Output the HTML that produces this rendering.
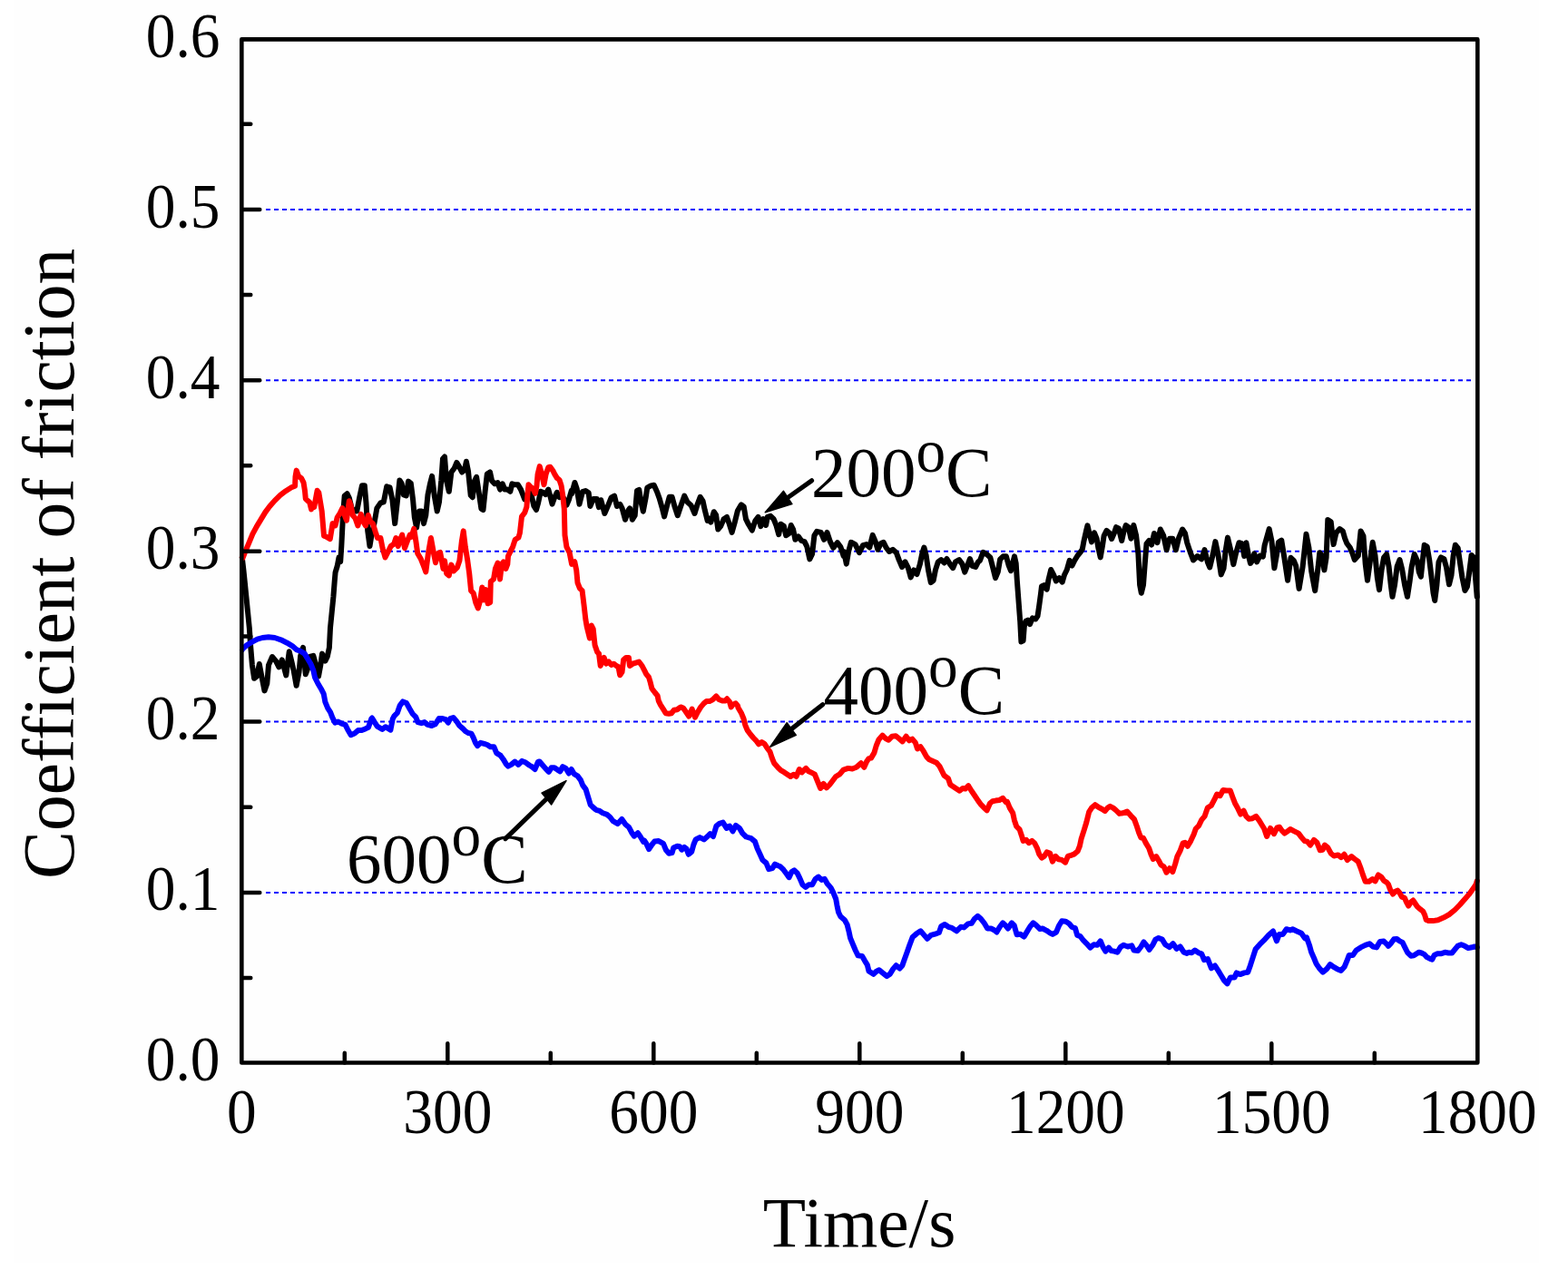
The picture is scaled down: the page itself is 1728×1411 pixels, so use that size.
<!DOCTYPE html><html><head><meta charset="utf-8"><style>html,body{margin:0;padding:0;background:#ffffff;}svg{display:block;}text{font-family:"Liberation Serif","Times New Roman",serif;font-variant-ligatures:none;fill:#000;}</style></head><body>
<svg width="1728" height="1411" viewBox="0 0 1728 1411">
<rect x="15" y="0" width="1681" height="1392" fill="#fefefe"/>
<line x1="293" y1="984.00" x2="1621.5" y2="984.00" stroke="#0000ff" stroke-width="1.9" stroke-dasharray="5 4"/>
<line x1="293" y1="795.50" x2="1621.5" y2="795.50" stroke="#0000ff" stroke-width="1.9" stroke-dasharray="5 4"/>
<line x1="293" y1="607.80" x2="1621.5" y2="607.80" stroke="#0000ff" stroke-width="1.9" stroke-dasharray="5 4"/>
<line x1="293" y1="419.30" x2="1621.5" y2="419.30" stroke="#0000ff" stroke-width="1.9" stroke-dasharray="5 4"/>
<line x1="293" y1="231.00" x2="1621.5" y2="231.00" stroke="#0000ff" stroke-width="1.9" stroke-dasharray="5 4"/>
<path d="M266.8,614.5 L268.4,628.3 L269.7,641.0 L271.4,658.0 L273.1,675.0 L274.8,692.0 L276.2,712.7 L277.9,733.1 L280.1,747.8 L283.0,745.6 L285.8,732.0 L288.6,746.7 L291.5,761.4 L294.3,753.5 L296.0,733.1 L300.0,724.0 L304.0,728.6 L307.4,735.4 L310.8,727.4 L315.3,744.4 L318.7,718.3 L321.5,729.7 L323.8,739.9 L326.6,755.8 L329.5,741.0 L331.2,722.9 L334.0,713.8 L336.8,743.3 L339.7,735.4 L341.4,724.0 L345.3,722.9 L348.2,733.1 L351.0,745.6 L353.3,733.1 L355.0,720.6 L358.4,728.6 L360.7,724.0 L362.9,713.8 L364.0,692.0 L365.7,675.0 L367.4,658.0 L368.7,641.0 L369.6,630.8 L371.7,624.0 L373.5,614.5 L375.2,619.1 L376.3,602.1 L378.0,568.0 L379.7,546.5 L382.5,544.2 L384.8,548.8 L387.6,560.1 L390.5,563.5 L393.3,563.5 L396.1,548.8 L399.0,535.2 L401.8,535.2 L403.5,554.4 L405.2,585.0 L407.5,602.1 L409.7,588.4 L412.6,576.0 L415.4,560.1 L419.4,554.4 L422.8,553.3 L426.2,536.3 L429.6,537.4 L432.4,551.0 L435.2,577.1 L438.1,551.0 L440.4,529.5 L442.6,532.9 L444.9,545.4 L447.7,546.5 L450.0,530.6 L452.8,532.9 L455.1,551.0 L456.8,570.3 L459.1,581.6 L461.9,563.5 L464.7,563.5 L467.0,577.1 L469.3,568.0 L471.5,545.4 L473.8,534.0 L476.1,524.9 L478.9,547.6 L481.7,563.5 L484.0,553.3 L486.3,529.5 L488.0,505.7 L490.0,503.5 L492.1,530.1 L494.8,541.8 L497.4,520.5 L500.6,516.3 L503.3,509.9 L505.9,514.1 L509.1,520.5 L511.8,518.4 L513.9,508.8 L516.0,519.4 L518.7,546.0 L520.8,548.2 L523.0,530.1 L525.1,525.8 L527.7,542.8 L530.4,560.9 L532.5,562.0 L534.6,541.8 L536.8,522.6 L540.0,520.5 L542.1,530.1 L545.3,533.3 L548.5,532.2 L551.1,539.6 L553.8,533.3 L556.4,539.6 L559.1,539.6 L562.3,541.8 L564.4,533.3 L567.6,534.3 L570.8,534.3 L574.0,539.6 L576.1,545.0 L578.2,550.3 L580.9,546.0 L583.5,541.8 L585.7,546.0 L588.3,557.7 L591.0,562.0 L593.1,554.5 L595.8,541.8 L598.4,542.8 L601.1,545.0 L604.3,539.6 L606.4,547.1 L608.5,555.6 L611.2,548.2 L613.8,542.8 L616.5,548.2 L619.2,546.0 L621.8,550.3 L624.5,556.7 L627.1,550.3 L629.8,540.7 L630.0,544.4 L633.4,532.0 L635.7,538.8 L638.5,555.8 L641.9,542.2 L645.3,541.0 L648.7,543.3 L650.4,558.0 L653.8,550.1 L657.8,550.1 L660.0,559.2 L662.3,551.2 L666.3,566.0 L670.3,556.9 L673.7,548.4 L677.1,546.7 L679.9,558.0 L683.3,555.8 L685.6,560.3 L689.0,572.8 L692.4,562.6 L694.1,560.3 L696.9,572.8 L699.7,568.2 L702.0,541.0 L704.3,539.9 L706.5,553.5 L708.8,563.7 L711.6,549.0 L713.3,537.6 L717.3,535.4 L720.7,534.8 L724.1,542.2 L726.9,550.1 L729.8,560.3 L732.1,569.4 L734.9,558.0 L737.7,547.8 L740.6,547.8 L743.4,558.0 L746.8,568.2 L750.2,558.0 L754.2,546.7 L757.6,553.5 L761.5,556.9 L765.5,566.0 L768.3,556.9 L771.7,547.8 L774.6,552.4 L776.8,562.6 L779.7,573.9 L780.0,571.0 L783.4,575.6 L786.8,564.2 L789.1,567.6 L791.3,583.5 L794.2,580.1 L797.6,572.2 L801.0,569.9 L803.8,577.8 L806.6,586.9 L809.5,576.7 L812.9,563.1 L816.9,556.3 L819.7,558.6 L822.0,572.2 L824.8,577.8 L828.8,584.6 L832.2,574.4 L835.6,569.9 L838.4,580.1 L841.2,572.2 L844.1,579.0 L845.8,569.9 L849.2,568.8 L852.6,572.2 L855.4,579.0 L858.2,589.2 L860.5,577.8 L863.9,580.1 L866.2,590.3 L869.6,588.0 L871.8,579.0 L874.1,583.5 L876.4,594.8 L879.8,591.4 L883.2,596.0 L886.6,597.1 L889.4,602.8 L892.3,616.4 L895.1,610.7 L897.4,590.3 L900.2,585.8 L904.7,586.9 L908.1,594.8 L911.5,586.9 L914.9,597.1 L918.3,603.9 L922.9,598.2 L926.3,602.8 L929.7,613.0 L930.0,608.0 L932.8,621.6 L935.1,608.0 L937.9,597.8 L942.5,600.1 L947.0,609.2 L951.0,601.2 L954.9,600.1 L958.3,603.5 L961.7,589.9 L964.6,596.7 L967.4,605.8 L970.8,599.0 L973.7,597.8 L976.5,603.5 L979.9,608.0 L983.9,605.8 L987.8,609.2 L990.7,617.1 L994.1,625.0 L997.5,619.4 L1000.9,626.2 L1003.7,636.4 L1007.1,628.4 L1010.5,633.0 L1013.9,621.6 L1016.2,610.3 L1018.4,603.5 L1020.7,612.6 L1023.0,628.4 L1025.8,642.1 L1028.7,639.8 L1030.9,628.4 L1033.8,619.4 L1037.2,617.1 L1040.6,620.5 L1043.4,616.0 L1046.8,621.6 L1050.2,626.2 L1053.0,619.4 L1057.0,617.1 L1060.4,621.6 L1063.2,630.7 L1065.5,625.0 L1068.9,616.0 L1071.7,623.9 L1075.1,625.0 L1078.0,619.4 L1080.0,617.8 L1083.4,608.8 L1087.4,611.0 L1091.3,614.4 L1094.2,625.8 L1097.0,637.1 L1099.8,630.3 L1102.1,616.7 L1105.5,613.3 L1108.9,613.3 L1111.7,623.5 L1114.0,629.2 L1116.3,620.1 L1118.0,613.3 L1119.7,621.2 L1120.8,639.4 L1122.5,662.1 L1124.2,684.7 L1125.4,707.4 L1127.6,706.3 L1128.8,690.4 L1130.5,684.7 L1132.7,683.6 L1135.0,688.1 L1137.8,681.3 L1141.2,682.5 L1143.5,679.1 L1145.2,667.7 L1146.9,655.2 L1148.0,646.2 L1150.9,645.0 L1153.7,649.6 L1155.4,639.4 L1158.2,628.0 L1161.1,633.7 L1163.9,640.5 L1167.3,637.1 L1170.7,641.6 L1173.0,633.7 L1175.8,628.0 L1178.7,617.8 L1181.5,623.5 L1184.3,617.8 L1187.7,612.2 L1190.6,608.8 L1192.8,605.4 L1194.5,596.3 L1196.8,586.1 L1198.5,579.3 L1200.8,589.5 L1203.0,597.4 L1205.9,587.2 L1208.7,594.0 L1210.4,604.2 L1212.7,614.4 L1214.9,602.0 L1216.6,590.6 L1219.5,584.9 L1222.3,587.2 L1225.1,594.0 L1228.0,587.2 L1230.0,581.2 L1232.8,582.4 L1236.2,596.0 L1238.5,585.8 L1240.8,579.0 L1243.6,581.2 L1246.4,593.7 L1249.3,579.0 L1252.1,590.3 L1254.4,610.7 L1256.1,644.7 L1257.8,653.8 L1260.0,644.7 L1261.7,622.1 L1263.5,599.4 L1266.3,596.0 L1269.1,600.5 L1272.0,588.0 L1275.4,598.2 L1278.8,583.5 L1282.2,590.3 L1285.6,606.2 L1289.0,593.7 L1292.4,593.7 L1295.8,606.2 L1299.2,592.6 L1303.1,583.5 L1306.0,588.0 L1308.2,598.2 L1311.6,608.4 L1315.0,617.5 L1319.6,613.0 L1324.1,616.4 L1327.5,606.2 L1330.9,619.8 L1333.2,625.5 L1336.0,614.1 L1339.4,597.1 L1342.3,610.7 L1345.7,633.4 L1348.5,626.6 L1350.8,606.2 L1353.0,592.6 L1355.9,605.0 L1359.3,622.1 L1362.1,609.6 L1365.5,598.2 L1368.9,599.4 L1371.2,613.0 L1373.4,598.2 L1376.3,614.1 L1378.0,620.9 L1380.0,618.2 L1382.3,610.3 L1385.1,619.4 L1388.5,612.6 L1391.9,613.7 L1393.6,601.2 L1398.7,583.1 L1401.5,596.7 L1404.4,626.2 L1407.2,610.3 L1408.9,597.8 L1412.3,595.6 L1415.2,613.7 L1419.1,639.8 L1422.5,614.8 L1425.9,618.2 L1428.2,623.9 L1431.6,648.9 L1435.6,625.0 L1439.5,588.8 L1442.4,603.5 L1445.2,629.6 L1449.2,651.1 L1452.6,625.0 L1454.3,609.2 L1457.1,612.6 L1459.4,628.4 L1461.6,614.8 L1463.3,572.9 L1466.7,575.2 L1469.6,600.1 L1472.4,587.6 L1476.4,583.1 L1479.8,585.4 L1482.1,593.3 L1484.3,599.0 L1487.7,603.5 L1490.6,610.3 L1492.8,617.1 L1496.8,612.6 L1499.6,585.4 L1502.5,591.0 L1504.7,621.6 L1507.0,639.8 L1509.8,619.4 L1512.7,597.8 L1515.5,612.6 L1517.8,636.4 L1520.0,650.1 L1522.6,628.0 L1525.1,614.4 L1528.1,611.0 L1530.6,624.6 L1532.8,645.0 L1534.5,657.8 L1537.0,645.0 L1539.6,624.6 L1542.5,617.0 L1545.1,627.2 L1548.1,645.0 L1551.0,657.8 L1553.6,640.8 L1555.7,624.6 L1558.7,611.0 L1561.7,617.8 L1563.8,630.6 L1565.9,635.7 L1567.6,619.5 L1569.7,600.8 L1572.7,602.5 L1575.3,617.8 L1577.4,634.8 L1579.5,653.5 L1581.2,662.0 L1583.4,645.0 L1585.5,619.5 L1588.0,614.4 L1591.4,616.1 L1594.0,625.5 L1597.0,644.2 L1599.5,634.0 L1601.6,612.7 L1603.8,600.8 L1606.7,604.2 L1608.9,619.5 L1611.4,636.5 L1614.4,651.0 L1616.9,646.7 L1619.1,631.4 L1621.6,611.9 L1624.2,614.4 L1627.7,657.8" fill="none" stroke="#000000" stroke-width="6.0" stroke-linejoin="round" stroke-linecap="round"/>
<path d="M266.9,614.3 L267.5,615.2 L270.6,607.4 L274.5,598.1 L278.4,588.7 L283.0,580.1 L287.7,572.4 L292.4,564.6 L297.1,558.3 L302.5,552.1 L308.8,545.9 L315.0,541.2 L321.2,537.3 L325.1,535.7 L325.5,525.6 L326.7,518.6 L329.0,524.8 L332.1,527.1 L334.5,531.8 L336.0,541.2 L336.8,549.8 L339.2,552.1 L341.1,553.6 L343.1,561.4 L343.4,560.1 L346.2,559.0 L349.6,540.8 L351.3,543.1 L354.7,563.5 L357.0,590.7 L359.8,591.8 L363.8,594.1 L366.6,577.1 L369.5,579.4 L371.7,570.3 L374.6,565.8 L377.4,560.1 L379.7,568.0 L382.0,573.7 L384.8,552.2 L386.5,556.7 L388.8,568.0 L391.6,571.4 L394.4,579.4 L397.8,566.9 L400.1,574.8 L402.9,579.4 L405.8,568.0 L408.0,574.8 L410.9,577.1 L413.7,586.2 L416.0,593.0 L419.4,593.0 L421.6,604.3 L424.5,614.5 L427.3,608.9 L430.7,602.1 L434.1,599.8 L436.4,593.0 L438.7,602.1 L440.9,595.2 L443.2,589.6 L446.0,604.3 L448.9,596.4 L451.7,589.6 L453.4,591.8 L456.2,582.8 L458.5,597.5 L460.2,610.0 L463.6,615.7 L466.4,622.5 L469.3,630.4 L472.1,608.9 L474.9,593.0 L477.8,608.9 L480.0,620.2 L482.9,610.0 L485.1,608.9 L488.5,627.0 L490.0,618.3 L492.1,632.1 L494.8,634.3 L497.4,622.6 L500.0,629.5 L503.8,625.7 L506.4,618.1 L508.9,596.4 L510.7,585.4 L512.8,602.8 L515.3,618.1 L517.2,632.1 L519.1,651.2 L521.7,653.8 L524.2,664.0 L526.8,670.4 L529.3,661.4 L531.3,647.4 L533.2,661.4 L535.1,650.0 L537.6,665.3 L540.2,664.0 L540.8,641.0 L544.0,638.5 L545.9,627.0 L548.5,620.6 L551.0,638.5 L552.9,621.9 L554.9,619.3 L557.4,627.0 L559.3,621.9 L560.0,613.0 L562.5,607.9 L565.1,602.8 L567.6,595.1 L571.4,592.6 L572.9,587.5 L575.0,569.4 L578.2,565.2 L580.4,558.8 L581.4,545.0 L582.5,534.3 L584.6,536.5 L587.3,538.6 L589.9,543.9 L591.5,535.4 L592.6,522.6 L594.7,514.1 L596.8,521.6 L599.5,534.3 L601.6,522.6 L604.3,515.2 L606.4,514.7 L609.1,518.4 L611.2,522.6 L613.8,526.9 L616.5,529.0 L618.6,535.4 L620.2,546.0 L621.8,560.9 L622.5,590.0 L624.4,602.8 L627.6,609.1 L630.1,621.9 L633.3,619.3 L635.2,628.3 L636.5,642.3 L639.0,648.7 L641.6,651.2 L643.5,666.5 L645.4,683.1 L646.7,690.8 L649.9,703.5 L651.8,689.5 L653.7,693.3 L655.6,711.2 L658.2,718.8 L660.0,720.4 L661.7,734.0 L663.4,729.5 L665.7,724.9 L667.9,731.7 L670.8,729.5 L673.6,732.9 L676.4,731.7 L679.3,734.0 L681.5,735.2 L683.2,744.2 L685.5,740.8 L687.2,727.2 L690.0,724.9 L692.9,724.9 L694.0,734.0 L697.4,731.7 L700.8,730.6 L704.2,729.5 L707.6,734.0 L710.5,739.7 L712.2,743.1 L715.0,746.5 L716.7,752.2 L718.4,759.0 L721.8,763.5 L724.6,766.9 L725.8,772.6 L728.0,777.1 L730.9,781.6 L733.7,786.2 L737.1,786.7 L739.9,786.2 L742.8,782.8 L746.2,782.2 L750.1,779.4 L753.0,780.5 L755.8,784.5 L759.2,789.6 L762.6,781.6 L766.0,790.7 L768.9,785.0 L772.3,779.4 L775.7,775.4 L778.5,773.1 L781.9,773.1 L785.3,771.4 L789.3,767.5 L792.1,770.9 L796.1,772.6 L798.9,772.6 L801.2,770.3 L804.0,773.7 L805.7,779.4 L808.0,776.5 L810.8,775.4 L813.1,778.2 L813.4,780.0 L816.8,785.7 L819.6,792.5 L821.3,799.3 L823.6,804.9 L827.0,809.5 L830.4,813.5 L833.2,816.3 L836.1,820.3 L839.5,818.0 L842.3,819.7 L845.2,824.2 L848.6,828.8 L850.8,835.6 L853.1,841.2 L857.1,845.8 L860.5,849.2 L864.4,851.4 L867.8,853.7 L871.2,856.0 L874.6,853.7 L877.5,856.0 L880.9,848.0 L883.7,851.4 L888.2,846.9 L891.1,850.3 L895.0,852.0 L897.9,853.7 L900.7,860.5 L904.1,869.0 L907.5,863.9 L910.9,868.4 L914.3,865.0 L917.7,860.5 L921.1,856.0 L925.1,853.7 L929.6,848.6 L934.7,846.9 L939.3,847.5 L943.8,845.8 L948.9,841.2 L952.3,845.8 L955.1,839.5 L957.4,836.1 L960.0,835.6 L963.4,829.9 L965.7,822.0 L968.5,815.2 L972.5,810.6 L975.9,814.0 L979.3,815.7 L983.2,811.7 L987.2,811.2 L990.6,814.0 L994.6,817.4 L998.6,811.7 L1002.0,816.3 L1005.4,814.6 L1008.8,818.6 L1011.0,825.4 L1014.4,823.1 L1017.8,828.2 L1021.2,834.4 L1024.1,837.3 L1028.0,839.0 L1032.0,840.7 L1035.4,844.6 L1038.2,850.3 L1040.5,854.8 L1045.0,858.2 L1047.3,865.0 L1050.7,867.3 L1054.1,869.6 L1057.5,871.8 L1060.9,869.0 L1063.8,869.6 L1067.2,866.2 L1070.6,871.8 L1074.5,877.5 L1077.9,882.6 L1081.3,887.2 L1084.7,890.6 L1087.6,893.4 L1091.0,885.5 L1093.8,883.2 L1097.2,882.6 L1101.2,882.1 L1105.1,879.8 L1108.5,884.3 L1110.0,883.8 L1112.8,890.6 L1116.2,896.3 L1117.9,904.2 L1120.2,911.0 L1123.6,914.4 L1125.9,921.2 L1127.6,926.9 L1131.0,925.8 L1133.8,929.2 L1137.2,926.9 L1140.0,929.2 L1142.9,934.8 L1145.2,941.6 L1148.0,945.6 L1150.8,943.9 L1153.7,939.4 L1157.1,940.5 L1159.9,949.6 L1163.3,943.9 L1166.7,947.3 L1170.1,947.9 L1174.1,950.7 L1176.9,943.9 L1180.3,942.8 L1183.7,941.6 L1187.7,938.2 L1189.9,932.6 L1191.6,924.6 L1194.5,915.6 L1197.3,906.5 L1200.1,895.2 L1203.0,890.6 L1206.9,887.2 L1210.9,890.0 L1214.3,891.7 L1217.7,894.0 L1220.6,890.6 L1223.4,888.9 L1226.8,890.6 L1230.2,893.5 L1233.6,896.9 L1237.6,896.3 L1242.1,894.6 L1246.1,899.1 L1250.0,903.1 L1252.9,911.0 L1255.1,917.8 L1257.4,923.5 L1260.0,923.7 L1262.8,929.4 L1266.2,935.0 L1268.5,941.8 L1270.8,946.9 L1274.2,944.1 L1277.0,948.7 L1279.3,953.2 L1282.7,955.5 L1285.5,961.7 L1288.9,957.2 L1292.3,961.1 L1295.2,952.1 L1297.4,944.1 L1300.8,937.3 L1303.7,929.4 L1305.9,928.8 L1308.8,932.8 L1312.2,927.1 L1315.6,919.7 L1317.8,913.5 L1321.2,910.1 L1324.1,903.9 L1327.5,899.9 L1330.9,890.3 L1334.8,888.0 L1338.2,881.7 L1341.1,875.5 L1344.5,877.2 L1347.9,871.0 L1351.8,871.5 L1355.8,871.5 L1358.7,879.5 L1360.9,885.2 L1364.3,891.4 L1367.2,897.6 L1370.6,893.7 L1373.4,899.9 L1376.2,902.7 L1380.2,902.2 L1384.2,899.9 L1387.6,904.4 L1390.4,909.0 L1393.2,913.5 L1396.1,922.0 L1400.0,912.9 L1404.0,919.2 L1407.4,912.4 L1410.0,911.7 L1412.3,915.2 L1415.7,918.6 L1419.1,916.3 L1421.9,914.0 L1426.4,916.3 L1431.0,918.6 L1434.4,923.1 L1437.8,927.1 L1440.6,927.6 L1444.0,931.6 L1448.0,925.9 L1451.4,928.8 L1454.8,937.3 L1457.6,936.7 L1459.9,931.6 L1463.3,934.4 L1466.7,940.7 L1470.1,943.5 L1474.6,942.4 L1478.0,945.2 L1481.4,941.8 L1484.8,948.0 L1489.4,944.1 L1492.8,946.9 L1496.7,949.7 L1499.6,957.1 L1501.8,963.9 L1504.7,971.8 L1508.7,971.8 L1512.6,969.0 L1515.5,971.3 L1518.9,964.5 L1522.3,966.7 L1525.1,970.7 L1528.5,973.0 L1530.0,974.9 L1532.3,981.2 L1535.1,985.5 L1537.8,982.7 L1540.1,981.6 L1542.5,984.3 L1544.8,988.6 L1547.9,989.8 L1549.9,994.4 L1552.2,998.7 L1554.9,994.4 L1557.3,992.5 L1559.6,996.0 L1562.0,999.5 L1565.1,1002.2 L1568.2,1004.6 L1570.1,1008.5 L1571.7,1013.9 L1574.8,1015.1 L1579.1,1015.1 L1584.6,1014.3 L1590.8,1011.6 L1597.0,1008.1 L1603.3,1003.0 L1608.7,997.5 L1614.2,991.3 L1618.9,985.9 L1623.5,979.6 L1626.6,974.9 L1627.8,971.0" fill="none" stroke="#ff0000" stroke-width="6.0" stroke-linejoin="round" stroke-linecap="round"/>
<path d="M266.9,716.2 L267.1,715.5 L272.2,711.0 L277.9,707.6 L283.5,704.7 L289.2,703.0 L296.0,702.2 L302.8,703.0 L309.6,705.3 L316.4,708.7 L322.1,712.1 L326.6,716.1 L331.2,717.8 L335.7,720.6 L339.1,726.3 L342.5,732.0 L345.3,738.8 L347.0,746.7 L350.4,753.5 L353.8,759.2 L356.7,764.8 L358.4,773.9 L361.2,780.7 L364.1,785.2 L366.3,790.9 L369.2,796.6 L372.6,795.5 L376.5,797.7 L380.5,798.9 L383.3,804.5 L386.7,810.2 L390.7,808.5 L394.7,805.1 L398.6,805.1 L402.6,803.4 L406.0,801.7 L409.4,792.1 L410.0,791.5 L412.8,796.1 L415.7,800.6 L421.3,804.0 L424.7,801.2 L430.4,804.6 L432.7,792.7 L434.4,789.3 L437.8,785.9 L440.6,777.9 L444.0,773.4 L448.0,775.1 L451.4,781.3 L454.8,787.0 L458.2,790.4 L460.5,796.1 L464.4,797.2 L467.8,796.1 L471.2,798.9 L475.8,800.0 L479.7,798.3 L483.7,792.1 L487.7,792.1 L491.1,793.2 L493.9,796.6 L496.2,792.1 L499.6,791.0 L503.0,794.9 L506.4,800.0 L509.8,802.9 L513.2,806.3 L516.0,808.0 L519.4,808.6 L521.7,813.1 L524.0,818.8 L526.2,822.2 L529.6,818.8 L533.6,819.9 L537.0,821.0 L540.4,823.3 L544.4,823.3 L547.2,830.1 L551.7,832.9 L554.6,836.9 L558.0,842.6 L560.0,844.6 L563.4,842.9 L567.4,839.5 L571.3,842.9 L575.3,838.9 L579.3,840.6 L583.2,843.5 L586.1,845.2 L589.5,848.0 L592.9,840.0 L594.6,839.5 L598.0,843.5 L601.4,847.4 L604.8,850.8 L607.6,846.3 L611.0,846.3 L614.4,848.6 L617.3,850.3 L620.1,845.2 L623.5,846.9 L626.9,852.5 L629.7,848.0 L632.6,853.1 L636.5,855.4 L639.9,859.9 L642.2,865.6 L645.6,870.1 L647.3,875.8 L649.0,881.4 L650.7,887.1 L653.5,889.9 L656.9,892.8 L660.9,893.9 L664.3,896.2 L668.9,897.9 L672.3,900.7 L675.7,905.2 L680.8,908.1 L685.3,903.0 L689.3,908.7 L693.2,912.1 L696.1,917.7 L698.9,921.7 L702.9,918.3 L705.7,922.3 L709.1,927.9 L710.0,926.5 L712.3,929.9 L715.1,936.1 L718.5,931.0 L721.3,927.6 L725.9,927.1 L731.0,929.9 L733.8,936.7 L737.2,940.7 L740.6,940.1 L742.3,934.4 L746.3,932.7 L749.1,933.3 L751.4,936.7 L754.2,933.9 L756.5,935.6 L758.8,941.8 L762.2,939.0 L764.4,931.0 L766.7,925.4 L771.2,923.1 L775.8,925.4 L779.7,922.0 L782.6,919.1 L786.0,922.0 L789.4,910.6 L792.8,907.8 L796.7,906.6 L800.7,912.9 L804.1,910.6 L807.5,916.3 L810.9,910.0 L814.9,912.9 L818.3,918.6 L822.3,922.5 L827.9,924.2 L831.9,927.6 L834.7,935.6 L837.6,941.8 L840.4,948.0 L844.4,951.4 L847.2,958.2 L851.2,957.1 L854.0,952.6 L857.4,954.3 L860.0,955.3 L863.4,958.7 L866.8,963.2 L869.6,967.2 L872.5,961.0 L875.3,959.3 L878.7,962.7 L881.5,968.3 L884.4,975.2 L887.8,978.0 L891.2,975.2 L895.2,975.2 L898.6,968.9 L902.0,966.6 L905.4,970.0 L908.8,968.9 L911.6,974.0 L915.6,978.6 L918.4,984.2 L921.2,991.0 L922.4,997.8 L924.1,1005.8 L926.3,1010.3 L930.9,1014.3 L933.7,1019.4 L935.4,1026.2 L937.1,1034.1 L939.9,1040.9 L942.8,1047.7 L945.6,1053.4 L950.1,1054.0 L953.0,1059.1 L955.8,1063.6 L957.5,1070.4 L962.6,1073.8 L965.5,1071.0 L968.9,1069.3 L972.3,1072.1 L977.4,1076.1 L980.8,1073.8 L984.2,1068.1 L987.6,1064.2 L991.5,1067.6 L994.4,1064.2 L996.6,1057.9 L999.5,1050.0 L1002.3,1042.1 L1005.7,1033.0 L1009.7,1029.6 L1010.0,1029.2 L1014.5,1026.3 L1018.5,1030.9 L1021.9,1034.8 L1025.9,1030.9 L1030.4,1029.7 L1034.9,1028.0 L1037.2,1021.2 L1041.2,1019.0 L1045.2,1021.8 L1049.1,1022.9 L1054.2,1026.3 L1058.8,1021.8 L1062.2,1022.4 L1066.7,1018.4 L1070.7,1017.8 L1074.1,1012.7 L1077.5,1009.9 L1080.9,1012.7 L1084.8,1017.8 L1088.2,1023.5 L1092.2,1023.5 L1095.6,1025.2 L1098.4,1027.5 L1101.8,1021.8 L1105.2,1017.3 L1108.1,1020.1 L1110.9,1023.5 L1114.9,1017.3 L1117.7,1020.1 L1120.6,1030.3 L1124.5,1029.7 L1128.5,1032.6 L1131.9,1026.9 L1135.3,1021.2 L1138.7,1017.3 L1142.1,1020.1 L1146.1,1024.1 L1148.9,1023.5 L1153.4,1025.8 L1157.4,1028.6 L1160.0,1029.9 L1164.0,1027.6 L1166.8,1020.8 L1170.2,1015.2 L1174.2,1015.7 L1178.1,1018.0 L1181.5,1022.0 L1184.9,1023.1 L1187.2,1031.0 L1190.6,1032.2 L1194.0,1036.7 L1197.4,1040.1 L1201.4,1044.6 L1205.4,1041.2 L1209.3,1041.8 L1212.7,1037.3 L1215.6,1044.1 L1218.4,1048.6 L1221.8,1044.6 L1224.6,1048.0 L1228.0,1048.6 L1231.4,1049.7 L1234.8,1044.1 L1238.2,1041.8 L1242.8,1043.5 L1247.3,1042.4 L1249.6,1047.5 L1254.1,1048.0 L1257.5,1043.5 L1260.4,1038.4 L1263.8,1042.4 L1266.6,1046.9 L1270.6,1041.2 L1273.4,1035.6 L1276.8,1033.9 L1280.8,1035.6 L1284.2,1041.2 L1288.7,1044.1 L1292.7,1040.1 L1296.6,1045.8 L1300.6,1043.5 L1304.6,1049.7 L1308.0,1050.9 L1310.0,1049.7 L1313.4,1050.3 L1316.8,1047.5 L1320.8,1050.3 L1324.2,1051.4 L1327.0,1058.2 L1331.0,1057.1 L1334.9,1067.3 L1338.9,1064.5 L1342.3,1069.6 L1345.7,1075.2 L1349.1,1080.9 L1352.5,1084.3 L1355.9,1077.5 L1360.5,1077.5 L1362.7,1072.4 L1366.7,1074.1 L1371.2,1072.4 L1375.2,1071.8 L1378.0,1063.9 L1380.9,1054.8 L1383.7,1046.3 L1388.2,1041.2 L1392.8,1036.7 L1397.9,1031.0 L1403.0,1026.5 L1406.9,1037.3 L1409.8,1029.9 L1413.8,1029.9 L1417.7,1024.2 L1421.7,1025.4 L1424.5,1024.2 L1429.1,1026.5 L1434.2,1028.8 L1438.1,1034.4 L1440.0,1033.4 L1443.0,1041.9 L1445.1,1049.5 L1448.1,1056.3 L1450.6,1062.3 L1454.0,1067.4 L1457.9,1071.6 L1462.1,1068.2 L1465.9,1063.1 L1469.3,1065.7 L1473.6,1068.2 L1477.8,1069.9 L1481.7,1065.7 L1484.2,1059.7 L1486.8,1052.9 L1491.0,1052.9 L1494.4,1047.8 L1499.5,1044.4 L1504.6,1041.9 L1509.3,1040.2 L1513.1,1043.6 L1517.0,1044.4 L1520.8,1038.0 L1525.0,1037.6 L1529.3,1041.9 L1530.0,1042.8 L1533.1,1039.6 L1536.2,1035.3 L1539.4,1035.0 L1542.5,1037.3 L1545.6,1038.9 L1548.3,1044.3 L1551.0,1049.8 L1554.9,1053.7 L1558.1,1053.3 L1561.2,1051.3 L1563.5,1049.8 L1566.6,1050.5 L1569.8,1052.1 L1572.1,1054.8 L1576.0,1056.8 L1578.3,1057.6 L1580.7,1052.9 L1583.8,1051.3 L1587.7,1051.3 L1592.4,1049.8 L1596.3,1050.5 L1600.1,1050.5 L1603.3,1046.6 L1606.4,1042.8 L1610.3,1041.2 L1614.2,1042.8 L1618.1,1045.1 L1622.0,1044.3 L1625.1,1043.5 L1627.8,1044.3" fill="none" stroke="#0000ff" stroke-width="6.0" stroke-linejoin="round" stroke-linecap="round"/>
<path d="M379.80,1171.50V1160.80M493.30,1171.50V1150.20M606.80,1171.50V1160.80M720.30,1171.50V1150.20M833.80,1171.50V1160.80M947.30,1171.50V1150.20M1060.80,1171.50V1160.80M1174.30,1171.50V1150.20M1287.80,1171.50V1160.80M1401.30,1171.50V1150.20M1514.80,1171.50V1160.80M266.30,1078.08H276.30M266.30,984.00H286.30M266.30,889.83H276.30M266.30,795.50H286.30M266.30,701.58H276.30M266.30,607.80H286.30M266.30,513.33H276.30M266.30,419.30H286.30M266.30,325.08H276.30M266.30,231.00H286.30M266.30,136.83H276.30" stroke="#000" stroke-width="4.5" stroke-linecap="round" fill="none"/>
<rect x="266.3" y="43.4" width="1362.0" height="1128.1" fill="none" stroke="#000" stroke-width="4.6" stroke-linejoin="round"/>
<text transform="translate(242.5,1190.9) scale(0.94,1)" font-size="69.5" text-anchor="end">0.0</text>
<text transform="translate(242.5,1003.0) scale(0.94,1)" font-size="69.5" text-anchor="end">0.1</text>
<text transform="translate(242.5,814.7) scale(0.94,1)" font-size="69.5" text-anchor="end">0.2</text>
<text transform="translate(242.5,627.2) scale(0.94,1)" font-size="69.5" text-anchor="end">0.3</text>
<text transform="translate(242.5,439.0) scale(0.94,1)" font-size="69.5" text-anchor="end">0.4</text>
<text transform="translate(242.5,250.9) scale(0.94,1)" font-size="69.5" text-anchor="end">0.5</text>
<text transform="translate(242.5,62.9) scale(0.94,1)" font-size="69.5" text-anchor="end">0.6</text>
<text transform="translate(266.3,1248.8) scale(0.94,1)" font-size="69.5" text-anchor="middle">0</text>
<text transform="translate(493.3,1248.8) scale(0.94,1)" font-size="69.5" text-anchor="middle">300</text>
<text transform="translate(720.3,1248.8) scale(0.94,1)" font-size="69.5" text-anchor="middle">600</text>
<text transform="translate(947.3,1248.8) scale(0.94,1)" font-size="69.5" text-anchor="middle">900</text>
<text transform="translate(1174.3,1248.8) scale(0.94,1)" font-size="69.5" text-anchor="middle">1200</text>
<text transform="translate(1401.3,1248.8) scale(0.94,1)" font-size="69.5" text-anchor="middle">1500</text>
<text transform="translate(1628.3,1248.8) scale(0.94,1)" font-size="69.5" text-anchor="middle">1800</text>
<text x="840.8" y="1374" font-size="77.5">Time/s</text>
<text transform="translate(81.3,969) rotate(-90)" font-size="79.4">Coefficient of friction</text>
<text transform="translate(893.9,546.6) scale(0.975,1)" font-size="79">200<tspan font-size="67" dy="-27">o</tspan><tspan dy="27">C</tspan></text>
<text transform="translate(907.5,786.7) scale(0.975,1)" font-size="79">400<tspan font-size="67" dy="-29.5">o</tspan><tspan dy="29.5">C</tspan></text>
<text transform="translate(382.0,972.7) scale(0.975,1)" font-size="79">600<tspan font-size="67" dy="-29.5">o</tspan><tspan dy="29.5">C</tspan></text>
<line x1="894.5" y1="529.8" x2="868.2" y2="548.5" stroke="#000" stroke-width="5.2" stroke-linecap="round"/><path d="M843.3,564.8L863.5,541.3L872.9,555.6Z" fill="#000" stroke="#000" stroke-width="1.5" stroke-linejoin="round"/>
<line x1="906.6" y1="776.7" x2="872.2" y2="803.6" stroke="#000" stroke-width="5.2" stroke-linecap="round"/><path d="M848.8,823.2L867.2,796.8L877.3,810.4Z" fill="#000" stroke="#000" stroke-width="1.5" stroke-linejoin="round"/>
<line x1="556.9" y1="924.6" x2="602.4" y2="880.5" stroke="#000" stroke-width="5.2" stroke-linecap="round"/><path d="M624.0,860.7L597,874.1L607.7,886.9Z" fill="#000" stroke="#000" stroke-width="1.5" stroke-linejoin="round"/>
</svg></body></html>
